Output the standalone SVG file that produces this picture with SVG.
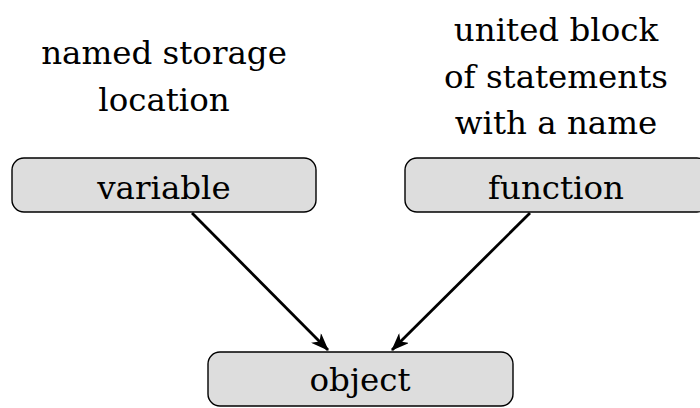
<svg xmlns="http://www.w3.org/2000/svg" width="700" height="408" viewBox="0 0 700 408">
<style>
text{font-family:'DejaVu Serif','Liberation Serif',serif;font-size:32.5px;fill:#000;text-anchor:middle}
.box{fill:#dddddd;stroke:#000;stroke-width:1.4}
.edge{stroke:#000;stroke-width:2.8;fill:none}
</style>
<defs>
<marker id="ah" markerWidth="18" markerHeight="14" viewBox="0 0 18 14" refX="17" refY="7" orient="auto" markerUnits="userSpaceOnUse">
<path d="M0,0 L18,7 L0,14 L5,7 Z" fill="#000"/>
</marker>
</defs>
<rect width="700" height="408" fill="#fff"/>
<g id="label-variable">
<text x="164" y="64">named storage</text>
<text x="164" y="111">location</text>
</g>
<g id="label-function">
<text x="556" y="41">united block</text>
<text x="556" y="88">of statements</text>
<text x="556" y="134">with a name</text>
</g>
<g id="variable">
<rect class="box" x="12" y="158" width="304" height="54" rx="12"/>
<text x="164" y="199">variable</text>
</g>
<g id="function">
<rect class="box" x="405" y="158" width="304" height="54" rx="12"/>
<text x="556" y="199">function</text>
</g>
<g id="object">
<rect class="box" x="208" y="352" width="305" height="54" rx="12"/>
<text x="360" y="391">object</text>
</g>
<g id="connectors">
<line class="edge" x1="192" y1="213" x2="328" y2="350" marker-end="url(#ah)"/>
<line class="edge" x1="530" y1="213" x2="392" y2="350" marker-end="url(#ah)"/>
</g>
</svg>
